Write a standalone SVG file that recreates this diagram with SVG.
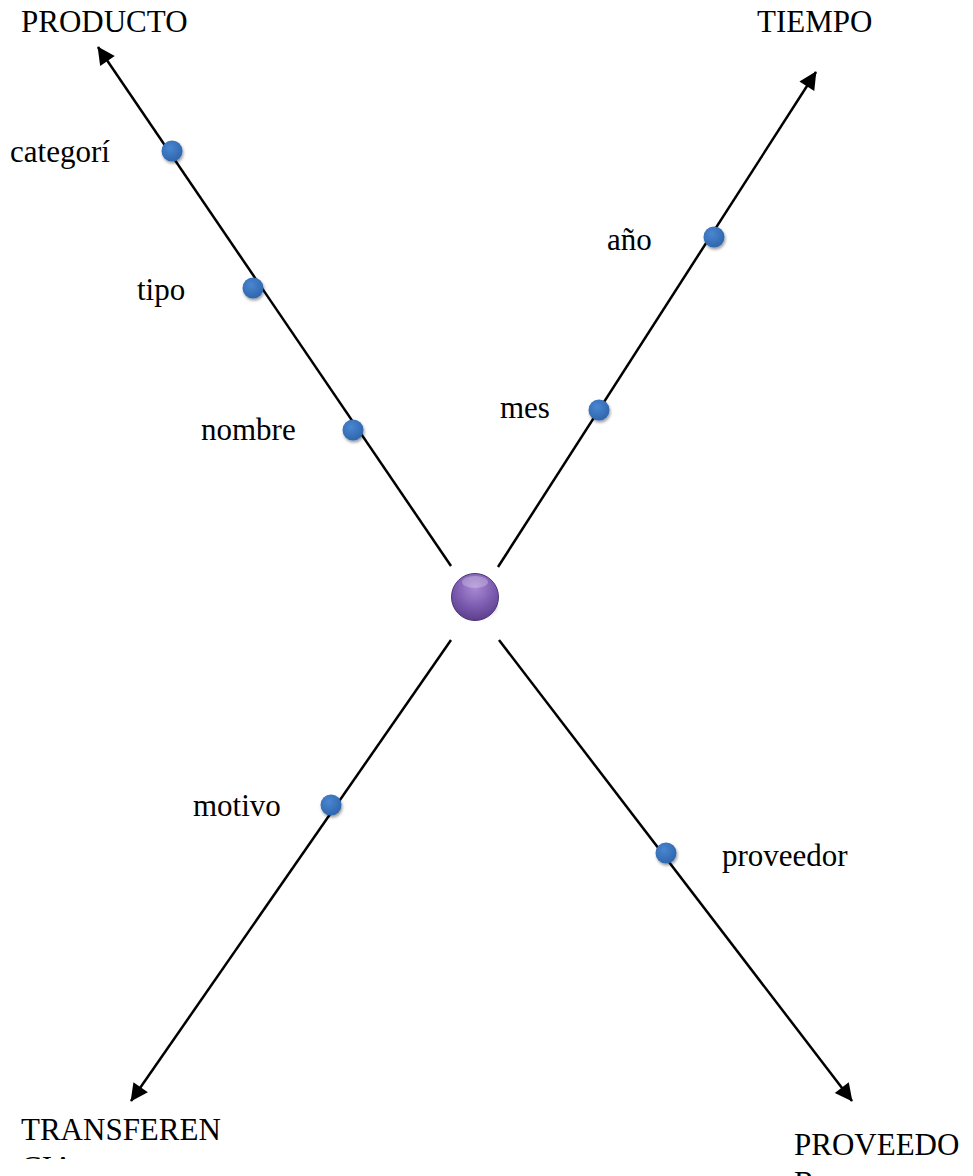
<svg xmlns="http://www.w3.org/2000/svg" width="973" height="1176" viewBox="0 0 973 1176">
<style>
.ax{stroke:#000;stroke-width:2.5;fill:none;marker-end:url(#ah)}
.t{font-family:"Liberation Serif","Times New Roman",serif;font-size:31px;fill:#000}
.dot{fill:url(#bg);filter:url(#sh)}
</style>
<defs>
<marker id="ah" viewBox="0 0 10 10" refX="9" refY="5" markerWidth="8" markerHeight="8" markerUnits="userSpaceOnUse" orient="auto" style="overflow:visible">
<path d="M0,0 L10,5 L0,10 z" fill="#000" transform="scale(2.2) translate(-5.5,-2.75)"/>
</marker>
<radialGradient id="bg" cx="0.4" cy="0.35" r="0.7">
<stop offset="0" stop-color="#4a86d0"/>
<stop offset="1" stop-color="#2d64ab"/>
</radialGradient>
<radialGradient id="pg" cx="0.5" cy="0.3" r="0.7">
<stop offset="0" stop-color="#a98ad4"/>
<stop offset="0.6" stop-color="#7b5aaf"/>
<stop offset="1" stop-color="#5c3f8c"/>
</radialGradient>
<filter id="sh" x="-50%" y="-50%" width="200%" height="200%">
<feGaussianBlur in="SourceAlpha" stdDeviation="1.5"/>
<feOffset dx="1" dy="2" result="b"/>
<feComponentTransfer><feFuncA type="linear" slope="0.4"/></feComponentTransfer>
<feMerge><feMergeNode/><feMergeNode in="SourceGraphic"/></feMerge>
</filter>
<clipPath id="cl"><rect x="0" y="0" width="973" height="1159"/></clipPath>
</defs>
<g id="connectors">
<line class="ax" x1="451" y1="566" x2="98" y2="47"/>
<line class="ax" x1="498" y1="567" x2="816" y2="72"/>
<line class="ax" x1="451" y1="640" x2="131" y2="1101"/>
<line class="ax" x1="499" y1="640" x2="852" y2="1101"/>
</g>
<g id="center">
<ellipse cx="476" cy="605" rx="22" ry="14" fill="#000" opacity="0.12" filter="url(#sh)"/>
<circle cx="475" cy="597" r="23.5" fill="url(#pg)" stroke="#4d3478" stroke-width="1"/>
<ellipse cx="475" cy="582" rx="13" ry="6" fill="#fff" opacity="0.25"/>
</g>
<g id="producto"><text class="t" x="21" y="32">PRODUCTO</text></g>
<g id="tiempo"><text class="t" x="757" y="32">TIEMPO</text></g>
<g id="transferencia"><text class="t" x="21" y="1140">TRANSFEREN</text><text class="t" x="21" y="1178" clip-path="url(#cl)">CIA</text></g>
<g id="proveedor-axis"><text class="t" x="794" y="1155">PROVEEDO</text><text class="t" x="794" y="1193">R</text></g>
<g id="categoria"><circle class="dot" cx="172" cy="151" r="10.5"/><text class="t" x="10" y="162">categorí</text></g>
<g id="tipo"><circle class="dot" cx="253" cy="288" r="10.5"/><text class="t" x="137" y="300">tipo</text></g>
<g id="nombre"><circle class="dot" cx="353" cy="430" r="10.5"/><text class="t" x="201" y="440">nombre</text></g>
<g id="anio"><circle class="dot" cx="714" cy="237" r="10.5"/><text class="t" x="607" y="250">año</text></g>
<g id="mes"><circle class="dot" cx="599" cy="410" r="10.5"/><text class="t" x="500" y="418">mes</text></g>
<g id="motivo"><circle class="dot" cx="331" cy="805" r="10.5"/><text class="t" x="193" y="816">motivo</text></g>
<g id="proveedor"><circle class="dot" cx="666" cy="853" r="10.5"/><text class="t" x="722" y="866">proveedor</text></g>
</svg>
